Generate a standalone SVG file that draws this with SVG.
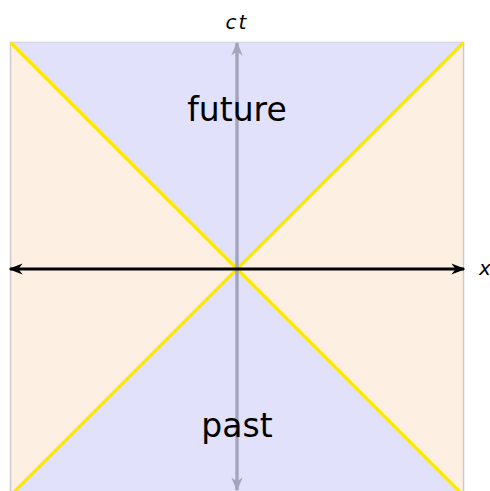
<svg xmlns="http://www.w3.org/2000/svg" width="490" height="491" viewBox="0 0 490 491">
<defs>
<style>
.lbl{font-family:"DejaVu Sans","Liberation Sans",sans-serif;fill:#000}
.big{font-size:33px}
.axl{font-size:20px;font-style:italic}
.cone{stroke:#ffe800;stroke-width:3.2;fill:none}
</style>
<marker id="ab" viewBox="0 0 10 10" refX="9" refY="5" markerWidth="14" markerHeight="14" orient="auto-start-reverse" markerUnits="userSpaceOnUse">
<path d="M0,1 L10,5 L0,9 L3,5 Z" fill="#000"/>
</marker>
<marker id="ag" viewBox="0 0 10 10" refX="9" refY="5" markerWidth="14" markerHeight="14" orient="auto-start-reverse" markerUnits="userSpaceOnUse">
<path d="M0,1 L10,5 L0,9 L3,5 Z" fill="#a4a4bc"/>
</marker>
</defs>
<g id="background">
<rect x="10.5" y="42.5" width="453" height="453" fill="#fdefe2" stroke="#cccccc" stroke-width="1.5"/>
<polygon id="future-region" points="10.5,42.5 463.5,42.5 237,269" fill="#e1e1fb"/>
<polygon id="past-region" points="10.5,495.5 463.5,495.5 237,269" fill="#e1e1fb"/>
</g>
<g id="light-cone">
<line class="cone" x1="10.5" y1="42.5" x2="463.5" y2="495.5"/>
<line class="cone" x1="463.5" y1="42.5" x2="10.5" y2="495.5"/>
</g>
<g id="connectors">
<line x1="237" y1="490" x2="237" y2="43" stroke="#a4a4bc" stroke-width="3.5" marker-start="url(#ag)" marker-end="url(#ag)"/>
<line x1="10" y1="269" x2="464" y2="269" stroke="#000" stroke-width="3" marker-start="url(#ab)" marker-end="url(#ab)"/>
</g>
<g id="future"><text class="lbl big" x="237" y="121" text-anchor="middle">future</text></g>
<g id="past"><text class="lbl big" x="237" y="437" text-anchor="middle">past</text></g>
<g id="ct-label"><text class="lbl axl" x="237" y="29" text-anchor="middle" letter-spacing="2">ct</text></g>
<g id="x-label"><text class="lbl axl" x="485" y="275" text-anchor="middle">x</text></g>
</svg>
